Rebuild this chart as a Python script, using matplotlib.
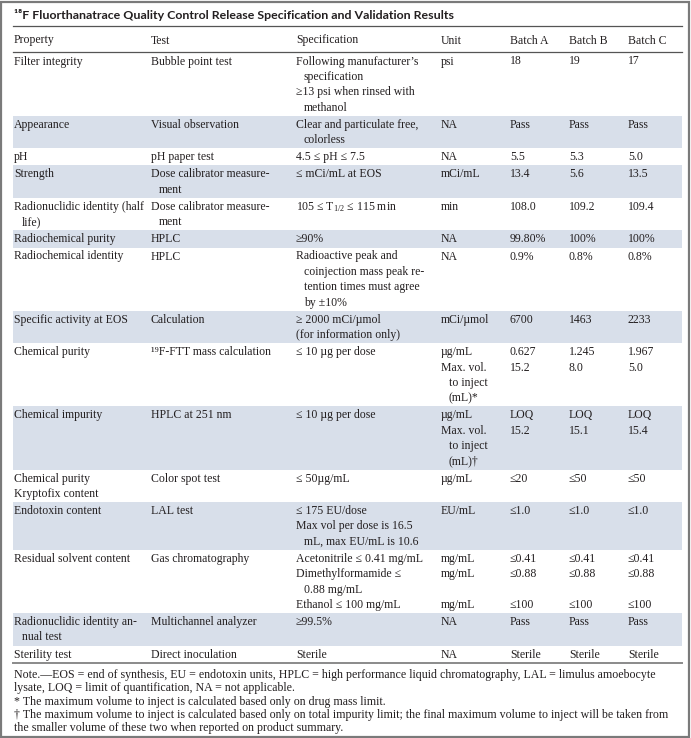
import matplotlib
matplotlib.use("Agg")
import matplotlib.pyplot as plt
from matplotlib.patches import Rectangle

plt.rcParams['font.family'] = ['Liberation Serif', 'DejaVu Serif']
plt.rcParams['mathtext.fontset'] = 'custom'
plt.rcParams['mathtext.rm'] = 'Liberation Serif'

TITLE = "¹⁸F Fluorthanatrace Quality Control Release Specification and Validation Results"
headers = ["Property", "Test", "Specification", "Unit", "Batch A", "Batch B", "Batch C"]

# "~" at the start of a line = wrapped continuation (hanging indent)
properties = [
    ["Filter integrity"],
    ["Appearance"],
    ["pH"],
    ["Strength"],
    ["Radionuclidic identity (half", "~life)"],
    ["Radiochemical purity"],
    ["Radiochemical identity"],
    ["Specific activity at EOS"],
    ["Chemical purity"],
    ["Chemical impurity"],
    ["Chemical purity", "Kryptofix content"],
    ["Endotoxin content"],
    ["Residual solvent content"],
    ["Radionuclidic identity an-", "~nual test"],
    ["Sterility test"],
]
tests = [
    ["Bubble point test"],
    ["Visual observation"],
    ["pH paper test"],
    ["Dose calibrator measure-", "~ment"],
    ["Dose calibrator measure-", "~ment"],
    ["HPLC"],
    ["HPLC"],
    ["Calculation"],
    ["¹⁹F-FTT mass calculation"],
    ["HPLC at 251 nm"],
    ["Color spot test"],
    ["LAL test"],
    ["Gas chromatography"],
    ["Multichannel analyzer"],
    ["Direct inoculation"],
]
specs = [
    ["Following manufacturer’s", "~specification", "≥13 psi when rinsed with", "~methanol"],
    ["Clear and particulate free,", "~colorless"],
    ["4.5 ≤ pH ≤ 7.5"],
    ["≤ mCi/mL at EOS"],
    [r"105 ≤ $\mathregular{T_{1/2}}$ ≤ 115 min"],
    ["≥90%"],
    ["Radioactive peak and", "~coinjection mass peak re-", "~tention times must agree", "~by ±10%"],
    ["≥ 2000 mCi/µmol", "(for information only)"],
    ["≤ 10 µg per dose"],
    ["≤ 10 µg per dose"],
    ["≤ 50µg/mL"],
    ["≤ 175 EU/dose", "Max vol per dose is 16.5", "~mL, max EU/mL is 10.6"],
    ["Acetonitrile ≤ 0.41 mg/mL", "Dimethylformamide ≤", "~0.88 mg/mL", "Ethanol ≤ 100 mg/mL"],
    ["≥99.5%"],
    ["Sterile"],
]
units = [
    ["psi"],
    ["NA"],
    ["NA"],
    ["mCi/mL"],
    ["min"],
    ["NA"],
    ["NA"],
    ["mCi/µmol"],
    ["µg/mL", "Max. vol.", "~to inject", "~(mL)*"],
    ["µg/mL", "Max. vol.", "~to inject", "~(mL)†"],
    ["µg/mL"],
    ["EU/mL"],
    ["mg/mL", "mg/mL", "", "mg/mL"],
    ["NA"],
    ["NA"],
]
batch_a = [["18"], ["Pass"], ["5.5"], ["13.4"], ["108.0"], ["99.80%"], ["0.9%"], ["6700"],
           ["0.627", "15.2"], ["LOQ", "15.2"], ["≤20"], ["≤1.0"],
           ["≤0.41", "≤0.88", "", "≤100"], ["Pass"], ["Sterile"]]
batch_b = [["19"], ["Pass"], ["5.3"], ["5.6"], ["109.2"], ["100%"], ["0.8%"], ["1463"],
           ["1.245", "8.0"], ["LOQ", "15.1"], ["≤50"], ["≤1.0"],
           ["≤0.41", "≤0.88", "", "≤100"], ["Pass"], ["Sterile"]]
batch_c = [["17"], ["Pass"], ["5.0"], ["13.5"], ["109.4"], ["100%"], ["0.8%"], ["2233"],
           ["1.967", "5.0"], ["LOQ", "15.4"], ["≤50"], ["≤1.0"],
           ["≤0.41", "≤0.88", "", "≤100"], ["Pass"], ["Sterile"]]

notes = [
    "Note.—EOS = end of synthesis, EU = endotoxin units, HPLC = high performance liquid chromatography, LAL = limulus amoebocyte",
    "lysate, LOQ = limit of quantification, NA = not applicable.",
    "* The maximum volume to inject is calculated based only on drug mass limit.",
    "† The maximum volume to inject is calculated based only on total impurity limit; the final maximum volume to inject will be taken from",
    "the smaller volume of these two when reported on product summary.",
]

columns = [properties, tests, specs, units, batch_a, batch_b, batch_c]
col_x = [14, 151, 296, 441, 510, 569, 628]

W, H = 691, 738
fig = plt.figure(figsize=(W / 100, H / 100), dpi=100)
ax = fig.add_axes([0, 0, 1, 1])
ax.set_xlim(0, W)
ax.set_ylim(H, 0)
ax.axis("off")

txt = "#231f20"
shade = "#d8dfea"
fs = 8.5
line_h = 15.35
pad = 1.8
indent = 8
left, right = 13, 682

# outer frame
ax.add_patch(Rectangle((1.5, 1.5), W - 3, H - 3, fill=False, ec="#7a7a7a", lw=1.6))

ax.text(14, 15, TITLE, fontsize=8.9, fontweight="bold", family=["Lato", "DejaVu Sans"],
        color=txt, va="center", ha="left")
ax.plot([left, right], [26, 26], color="#555555", lw=0.9)

for x, h in zip(col_x, headers):
    ax.text(x, 40.5, h, fontsize=fs, color=txt, va="center", ha="left")
ax.plot([left, right], [52, 52], color="#555555", lw=0.9)

y = 52.5
for i in range(len(properties)):
    n = max(len(col[i]) for col in columns)
    hgt = n * line_h + pad
    if i % 2 == 1:
        ax.add_patch(Rectangle((left, y), right - left, hgt, fc=shade, ec="none", zorder=0))
    for x, col in zip(col_x, columns):
        for k, line in enumerate(col[i]):
            xx = x
            if line.startswith("~"):
                line = line[1:]
                xx = x + indent
            ax.text(xx, y + 9.0 + k * line_h, line, fontsize=fs, color=txt,
                    va="center", ha="left")
    y += hgt

ax.plot([left, right], [y + 0.5, y + 0.5], color="#8a8a8a", lw=1.4)

ny = y + 12.5
for k, line in enumerate(notes):
    ax.text(14, ny + k * 13.1, line, fontsize=8.55, color=txt, va="center", ha="left")

fig.savefig("out.png", dpi=100)
